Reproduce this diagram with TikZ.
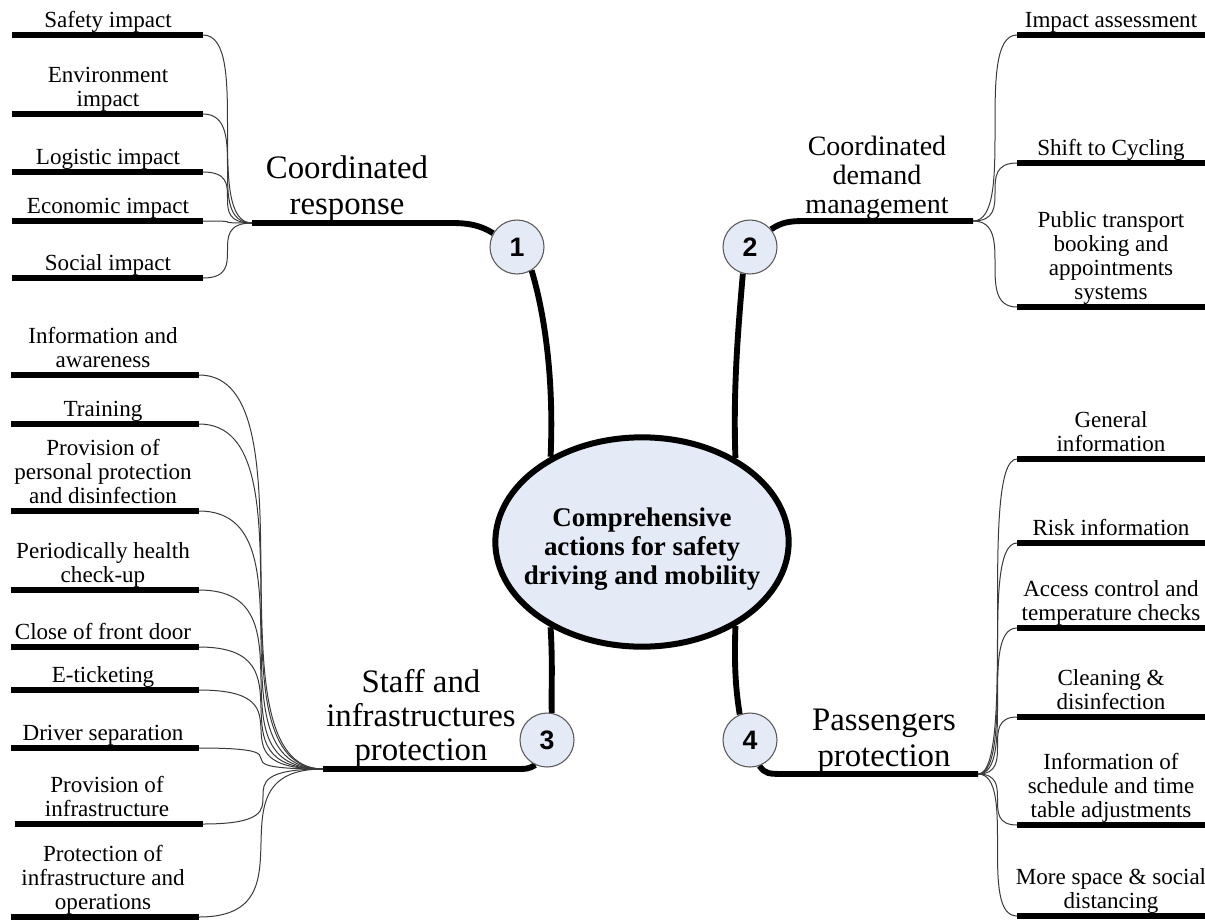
\documentclass[tikz,border=0pt]{standalone}
\usepackage{fontspec}
\setmainfont{Liberation Serif}
\newfontfamily\numfont{Liberation Sans}
\usetikzlibrary{shapes.geometric,backgrounds}
\definecolor{bubble}{HTML}{E4EAF6}
\definecolor{twigc}{HTML}{3A3A3A}
\begin{document}
\begin{tikzpicture}[x=0.75pt,y=-0.75pt,
  leafline/.style={line width=4.2pt},
  trunk/.style={line width=4.4pt},
  twig/.style={line width=0.75pt, draw=twigc},
  leaftext/.style={font=\fontsize{17.3}{18}\selectfont, align=center, inner sep=0pt, anchor=south},
  branchtext/.style={font=\fontsize{24.6}{27}\selectfont, align=center, inner sep=0pt, anchor=south},
  numc/.style={circle, draw=black!65, line width=0.8pt, fill=bubble, minimum size=40.5pt, inner sep=0pt, font=\numfont\bfseries\fontsize{20}{20}\selectfont},
  hubnode/.style={ellipse, draw, line width=4.5pt, fill=bubble, minimum width=220pt, minimum height=157pt, inner sep=0pt},
  hubtext/.style={align=center, inner sep=0pt, font=\bfseries\fontsize{20.2}{21.75}\selectfont}]

\useasboundingbox (0,0) rectangle (1205,922);

% central node and numbered circles
\node[hubnode] (hub) at (642,542) {};
\node[hubtext] (hubt) at (642,549) {Comprehensive\\actions for safety\\driving and mobility};
\node[numc] (C1) at (517,247) {1};
\node[numc] (C2) at (750,247) {2};
\node[numc] (C3) at (547,740) {3};
\node[numc] (C4) at (750,740) {4};

% branch points
\coordinate (B1) at (252,223);
\coordinate (B2) at (973,221);
\coordinate (B3) at (323,769);
\coordinate (B4) at (978,774);

% branch labels
\node[branchtext] (L1) at (347,226) {Coordinated\\response\strut};
\node[branchtext, font=\fontsize{21}{22}\selectfont] (L2) at (877,223) {Coordinated\\demand\\management\strut};
\node[branchtext, font=\fontsize{24.6}{25.5}\selectfont] (L3) at (421,771) {Staff and\\infrastructures\\protection\strut};
\node[branchtext] (L4) at (884,778) {Passengers\\protection\strut};

% trunks
\begin{pgfonlayer}{background}
\draw[trunk] (C1.150) .. controls (480,225) and (468,223) .. (452,223) -- (B1);
\draw[trunk] (C1.-58) .. controls (545,315) and (554,380) .. (hub.137);
\draw[trunk] (C2.40) .. controls (782,222) and (790,221) .. (805,221) -- (B2);
\draw[trunk] (C2.-105) .. controls (738,330) and (733,390) .. (hub.42);
\draw[trunk] (hub.-137) .. controls (553,670) and (551,690) .. (C3.80);
\draw[trunk] (C3.-115) .. controls (528,769) .. (512,769) -- (B3);
\draw[trunk] (hub.-42) .. controls (734,670) and (736,690) .. (C4.112);
\draw[trunk] (C4.-70) .. controls (766,774) .. (790,774) -- (B4);
\end{pgfonlayer}

% branch 1 leaves
\foreach \i/\y/\txt in {1/35/{Safety impact},2/114/{Environment\\impact},3/172/{Logistic impact},4/221/{Economic impact},5/278/{Social impact}}{
  \coordinate (sa\i) at (12,\y);
  \coordinate (ea\i) at (203,\y);
  \draw[leafline] (sa\i) -- (ea\i);
  \node[leaftext] (a\i) at (108,\y) {\txt\strut};
  \draw[twig] (ea\i) .. controls +(49,0) and +(-49,0) .. (B1);
}

% branch 2 leaves
\foreach \i/\y/\txt in {1/35/{Impact assessment},2/163/{Shift to Cycling},3/307/{Public transport\\booking and\\appointments\\systems}}{
  \coordinate (sb\i) at (1017,\y);
  \coordinate (eb\i) at (1205,\y);
  \draw[leafline] (sb\i) -- (eb\i);
  \node[leaftext] (b\i) at (1111,\y) {\txt\strut};
  \draw[twig] (B2) .. controls +(44,0) and +(-44,0) .. (sb\i);
}

% branch 3 leaves
\foreach \i/\y/\xa/\xb/\cx/\txt in {1/375/11/199/103/{Information and\\awareness},2/424/11/199/103/{Training},3/511/11/199/103/{Provision of\\personal protection\\and disinfection},4/590/11/199/103/{Periodically health\\check-up},5/647/11/199/103/{Close of front door},6/690/11/199/103/{E-ticketing},7/748/11/199/103/{Driver separation},8/824/15/203/107/{Provision of\\infrastructure},9/917/11/199/103/{Protection of\\infrastructure and\\operations}}{
  \coordinate (sc\i) at (\xa,\y);
  \coordinate (ec\i) at (\xb,\y);
  \draw[leafline] (sc\i) -- (ec\i);
  \node[leaftext] (c\i) at (\cx,\y) {\txt\strut};
  \draw[twig] (ec\i) .. controls +(120,0) and +(-120,0) .. (B3);
}

% branch 4 leaves
\foreach \i/\y/\txt in {1/459/{General\\information},2/543/{Risk information},3/628/{Access control and\\temperature checks},4/717/{Cleaning \&\\disinfection},5/825/{Information of\\schedule and time\\table adjustments},6/916/{More space \& social\\distancing}}{
  \coordinate (sd\i) at (1017,\y);
  \coordinate (ed\i) at (1205,\y);
  \draw[leafline] (sd\i) -- (ed\i);
  \node[leaftext] (d\i) at (1111,\y) {\txt\strut};
  \draw[twig] (B4) .. controls +(39,0) and +(-39,0) .. (sd\i);
}
\end{tikzpicture}
\end{document}
